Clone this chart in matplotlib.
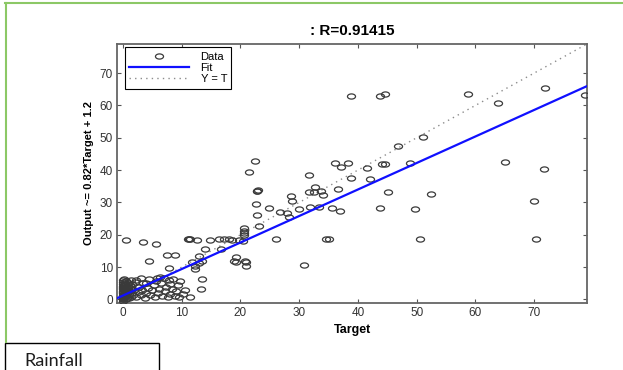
import numpy as np
import matplotlib.pyplot as plt
from matplotlib.path import Path
from matplotlib.patches import Rectangle
from matplotlib.lines import Line2D
import matplotlib.transforms as mtransforms

plt.rcParams['font.family'] = ['Liberation Sans', 'DejaVu Sans']

# regression results (rainfall network output vs target)
r_value = 0.91415
fit_slope = 0.82
fit_intercept = 1.2
axis_min, axis_max = -1.0, 79.0

# scattered samples
target = [
    38.9, 43.7, 44.7, 58.7, 63.8, 71.9, 78.7, 51.1, 46.9,
    36.1, 38.3, 37.2, 41.6, 44.1, 44.6, 48.9, 65.1, 71.6,
    38.8, 42.0, 36.7, 45.1, 52.5, 70.0, 35.6, 36.9, 43.8, 49.7,
    35.1, 50.6, 70.3, 30.9, 22.5, 21.4, 22.9, 23.0, 22.8, 31.7,
    32.7, 31.7, 32.5, 33.7, 34.1, 28.6, 28.8, 29.9, 31.9, 33.3,
    22.7, 24.8, 26.7, 27.9, 28.3, 22.9, 23.2, 20.6, 20.6, 20.6, 20.7,
    14.9, 16.4, 17.2, 18.1, 18.6, 19.7, 20.4, 26.1, 34.5,
    13.9, 16.7, 19.2, 20.9, 20.9, 19.3, 0.6, 3.4, 5.7,
    11.3, 11.5, 11.1, 12.7, 4.4, 7.5, 8.9, 13.0, 11.8, 13.0, 12.3,
    7.8, 13.5, 13.3, 11.4, 12.2, 13.4, 18.9, 20.8,
    # low rainfall cluster
    0.0, 0.0, 0.0, 0.0, 0.0, 0.0, 0.0, 0.0, 0.0, 0.0, 0.0, 0.0, 0.0, 0.0, 0.0,
    0.1, 0.1, 0.2, 0.2, 0.3, 0.3, 0.4, 0.4, 0.5, 0.5, 0.6, 0.7, 0.8, 0.8, 0.9,
    1.0, 1.0, 1.1, 1.2, 1.3, 1.4, 1.5, 1.6, 1.8, 1.9, 2.0,
    2.3, 2.5, 2.7, 3.0, 3.2, 3.4, 3.7, 3.9, 4.2, 4.5, 4.7, 5.0, 5.3, 5.5,
    5.8, 6.0, 6.2, 6.5, 6.7, 7.0, 7.2, 7.4, 7.6, 7.9, 8.1, 8.3, 8.6, 8.9,
    9.1, 9.4, 9.8, 10.2, 10.5, 5.6, 6.3, 4.0, 2.2, 3.0, 8.0, 9.5,
    0.0, 0.2, 0.4, 0.6, 0.9, 1.2, 0.3, 0.7,
]
output = [
    62.8, 63.0, 63.4, 63.6, 60.7, 65.3, 63.3, 50.3, 47.5,
    42.3, 42.3, 41.1, 40.7, 41.9, 41.9, 42.3, 42.4, 40.3,
    37.7, 37.1, 34.1, 33.2, 32.7, 30.4, 28.4, 27.5, 28.3, 28.1,
    18.6, 18.6, 18.6, 10.8, 42.7, 39.4, 33.6, 33.8, 33.4, 38.4,
    34.7, 33.1, 33.1, 33.6, 32.3, 32.0, 30.6, 27.9, 28.5, 28.7,
    29.4, 28.2, 27.2, 26.7, 25.6, 26.2, 22.8, 22.1, 21.3, 20.5, 19.8,
    18.5, 18.7, 18.7, 18.7, 18.5, 18.3, 18.2, 18.7, 18.7,
    15.6, 15.7, 13.2, 11.5, 10.5, 11.5, 18.3, 17.7, 17.0,
    18.7, 18.8, 18.6, 18.3, 11.8, 13.6, 13.6, 13.4, 11.5, 11.3, 9.3,
    9.8, 6.2, 3.2, 0.9, 10.2, 11.8, 12.0, 11.8,
    # low rainfall cluster
    -0.6, 0.0, 0.3, 0.7, 1.1, 1.5, 1.9, 2.3, 2.7, 3.1, 3.5, 3.9, 4.3, 4.8, 5.3,
    0.1, 0.5, 0.9, 1.6, 2.2, 2.9, 3.6, 4.5, 5.6, 0.2, 1.2, 2.0, 3.2, 4.1, 5.0,
    0.6, 1.7, 2.6, 3.5, 6.0, 0.9, 2.0, 4.7, 1.4, 3.0, 5.5,
    0.8, 2.4, 4.0, 1.3, 3.0, 5.0, 0.6, 2.1, 3.6, 6.2, 1.5, 2.8, 4.4, 0.9,
    6.5, 2.0, 3.3, 5.2, 1.2, 6.6, 2.6, 4.0, 0.7, 5.9, 1.8, 3.3, 6.3, 1.0,
    2.5, 4.4, 5.6, 1.6, 3.0, 5.8, 6.9, 5.0, 6.1, 6.6, 4.8, 0.9,
    5.9, 6.3, 5.2, 5.8, 3.8, 4.6, 1.0, 0.4,
]

# slightly flattened open circle, as the markers appear in the exported figure
ellipse = Path.unit_circle().transformed(mtransforms.Affine2D().scale(1.0, 0.64))

fig = plt.figure(figsize=(6.23, 3.70), dpi=100)
ax = fig.add_axes([117 / 623, 1 - 302.7 / 370, 470 / 623, 258.7 / 370])

line_x = np.array([axis_min, axis_max])
ax.plot(target, output, linestyle='none', marker=ellipse, markersize=5.8,
        markerfacecolor='none', markeredgecolor='#3a3a3a', markeredgewidth=0.9,
        label='Data', zorder=3)
ax.plot(line_x, fit_slope * line_x + fit_intercept, color='#1010ff', lw=1.6,
        label='Fit', zorder=4)
ax.plot(line_x, line_x, color='#8c8c8c', lw=1.0, linestyle=(0, (1, 3)),
        label='Y = T', zorder=2)

ax.set_xlim(axis_min, axis_max)
ax.set_ylim(axis_min, axis_max)
ax.set_xticks(range(0, 80, 10))
ax.set_yticks(range(0, 80, 10))
ax.tick_params(direction='in', length=3, width=0.8, color='#555555',
               labelsize=8.5, labelcolor='#333333', top=True, right=True, pad=3)
for s in ax.spines.values():
    s.set_color('#666666')
    s.set_linewidth(1.3)

ax.set_title(': R=%.5f' % r_value, fontsize=11, fontweight='bold', pad=6.5)
ax.set_xlabel('Target', fontsize=9, fontweight='bold', va='top')
ax.xaxis.set_label_coords(0.5, -0.083)
ax.set_ylabel('Output ~= %.2f*Target + %.1f' % (fit_slope, fit_intercept),
              fontsize=8, fontweight='bold')
ax.yaxis.set_label_coords(-0.049, 0.5)

ax.legend(loc='upper left', bbox_to_anchor=(0.017, 0.988), borderaxespad=0,
          fontsize=8, handlelength=5.4, handletextpad=1.0, borderpad=0.4,
          labelspacing=0.12, fancybox=False, framealpha=1, edgecolor='black')
ax.get_legend().get_frame().set_linewidth(0.8)

# page frame and caption box
fig.add_artist(Line2D([5 / 623, 1], [1 - 2.5 / 370] * 2, color='#8cc866', lw=1.5))
fig.add_artist(Line2D([5.5 / 623] * 2, [1 - 2.5 / 370, 1 - 342 / 370], color='#8cc866', lw=1.5))
fig.add_artist(Rectangle((5 / 623, -0.01), 153.5 / 623, (370 - 342.5) / 370 + 0.01,
                         transform=fig.transFigure, facecolor='white',
                         edgecolor='black', lw=1.0))
fig.text(24 / 623, 1 - 361 / 370, 'Rainfall', fontsize=13, family=['Lato', 'DejaVu Sans'],
         color='#1d1d1d', va='center', ha='left')

fig.savefig('out.png', dpi=100)
